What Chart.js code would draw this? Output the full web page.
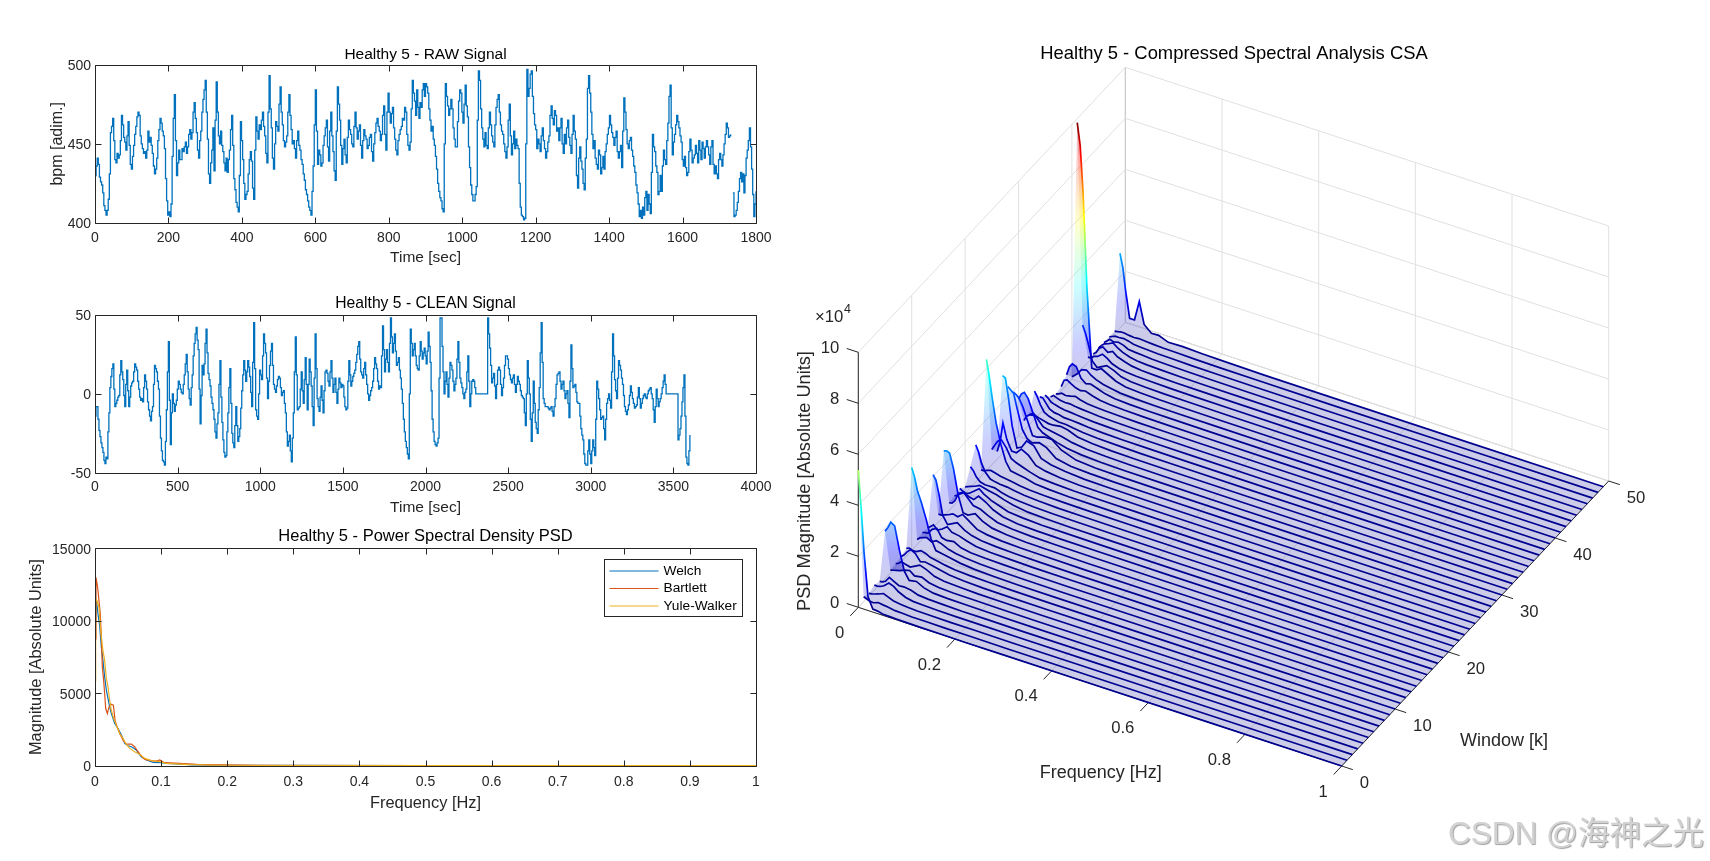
<!DOCTYPE html>
<html>
<head>
<meta charset="utf-8">
<title>Healthy 5</title>
<script src="https://cdn.jsdelivr.net/npm/chart.js@4"></script>
<style>
  html, body { margin: 0; background: #fff; overflow: hidden; }
  body { width: 1710px; height: 861px; position: relative; }
  canvas { position: absolute; }
  #marca {
    position: absolute; left: 1448px; top: 807px; white-space: nowrap;
    font: 31.5px "Liberation Sans", "Noto Sans CJK SC", sans-serif;
    color: #d2d2d2; text-shadow: 1px 1px 1px #a0a0a0;
  }
</style>
</head>
<body>
<canvas id="raw" width="780" height="223" style="left:0;top:44px"></canvas>
<canvas id="clean" width="780" height="224" style="left:0;top:293px"></canvas>
<canvas id="psd" width="780" height="287" style="left:0;top:526px"></canvas>
<canvas id="csa" width="950" height="861" style="left:760px;top:0"></canvas>
<div id="marca">CSDN @海神之光</div>
<script>
// Sinal bruto, uma leitura a cada 3 s (null = buraco no traço perto de 1734 s)
const rawStep = 3;
const rawValues = [
  430,436,441,437,429,426,424,419,411,408,405,408,415,431,457,461,466,452,440,438,
  444,441,443,452,468,462,454,451,446,455,464,449,437,434,442,449,456,461,467,470,
  468,455,450,447,444,445,441,446,458,451,454,449,444,436,431,434,441,452,459,466,
  463,458,455,447,428,414,405,407,404,412,442,466,481,452,430,438,446,440,440,447,
  445,448,451,444,448,456,459,453,457,470,476,466,457,446,441,452,458,470,478,484,
  490,470,453,431,425,438,446,460,433,465,489,470,455,450,458,449,445,438,433,441,
  432,440,446,459,468,449,428,421,413,410,407,430,464,452,440,425,415,418,420,431,
  440,445,439,422,415,446,467,458,453,462,459,465,470,461,455,444,438,470,493,472,
  460,441,434,450,464,461,458,475,486,470,462,452,448,451,455,470,481,468,459,450,
  452,447,441,452,458,449,446,440,437,431,427,421,418,414,410,408,405,420,436,462,
  484,458,437,446,443,436,438,449,455,460,465,448,439,458,470,455,445,433,427,458,
  486,475,465,449,437,447,453,443,438,454,465,459,456,450,448,461,470,460,453,458,
  462,449,441,452,459,455,453,447,449,454,456,445,439,450,457,463,466,461,458,452,
  456,468,474,456,446,470,482,470,463,469,473,460,453,446,443,452,456,459,461,466,
  465,473,470,456,449,446,451,472,490,482,477,468,484,473,466,476,473,484,488,480,
  488,486,482,472,465,458,461,453,449,442,434,425,420,416,414,409,407,450,488,480,
  474,468,472,478,472,460,453,448,448,464,477,484,482,470,463,475,487,474,467,448,
  435,424,418,414,414,418,423,465,496,490,472,460,453,448,457,449,447,460,470,462,
  455,451,448,462,473,478,481,470,462,458,456,450,445,441,448,465,475,455,443,450,
  458,447,453,449,447,425,410,405,404,402,403,450,497,480,485,494,496,480,469,462,
  459,447,453,450,445,455,460,452,447,441,445,451,455,468,474,466,462,471,468,458,
  460,452,460,466,450,444,456,450,460,465,454,449,444,456,468,458,453,430,422,441,
  448,439,434,425,421,441,453,485,493,482,470,456,447,452,441,437,434,446,443,431,
  435,442,434,445,450,456,460,468,462,457,454,449,454,458,445,441,445,449,435,458,
  479,470,459,450,447,452,454,446,442,436,432,424,419,412,404,408,403,410,405,416,
  420,408,418,412,406,432,456,448,445,436,432,418,420,430,420,436,446,440,437,452,
  463,480,487,460,443,451,456,462,468,464,460,455,451,440,436,442,435,430,432,445,
  453,446,438,441,443,449,444,438,452,446,440,451,447,441,448,452,448,443,437,448,
  452,437,431,436,431,428,440,444,440,436,443,450,456,463,460,454,455,456,null,
  419,404,405,408,413,420,428,432,426,431,419,430,441,446,452,460,448,434,418,404,412,420
];
const rawXTicks = [0,200,400,600,800,1000,1200,1400,1600,1800];
const rawYTicks = [400,450,500];

// Sinal limpo, uma leitura a cada 6 s
const cleanStep = 6;
const cleanValues = [
  -14,-8,-8,-16,-23,-27,-31,-34,-37,-42,-44,-40,-41,-24,-12,4,11,16,19,3,
  -8,-6,-4,-2,-1,12,21,14,9,-1,-8,6,15,2,-8,-2,5,7,8,14,
  19,17,15,8,3,-2,-4,-3,-5,4,12,8,3,-5,-10,-14,-17,-11,-8,6,
  18,16,14,8,3,-14,-28,-36,-42,-43,-45,-30,-10,14,33,-4,-32,-12,0,-6,
  -11,-7,-4,3,8,6,3,1,0,6,12,19,25,14,3,-3,-7,4,12,24,
  32,38,42,34,28,3,-19,-1,18,12,19,32,41,26,13,9,5,-2,-6,-10,
  -16,-24,-28,-19,-12,6,21,-2,-18,-29,-37,-40,-39,-24,-12,4,16,-6,-25,-31,
  -34,-20,-8,-20,-30,-27,-22,-9,2,12,21,15,8,14,21,17,11,1,-8,20,
  45,16,-10,-14,-16,0,15,12,9,24,38,32,26,10,-3,8,18,27,32,18,
  6,3,1,5,9,11,10,4,-1,1,2,-6,-12,-24,-33,-30,-26,-36,-43,-28,
  -12,14,36,12,-10,-9,-8,3,14,2,-6,9,23,6,-10,6,22,14,5,-8,
  -20,10,38,16,-3,-8,-11,-2,5,-4,-12,2,14,15,13,8,5,14,21,10,
  1,6,10,1,-6,3,10,7,4,6,5,-2,-8,-10,-9,8,21,12,5,8,
  11,13,15,20,25,30,33,22,14,12,10,16,20,12,6,0,-4,-1,2,4,
  8,16,23,19,16,8,3,5,4,24,43,28,14,22,28,20,14,32,48,36,
  26,32,38,27,18,20,23,15,10,3,-6,-16,-24,-30,-34,-38,-41,0,41,32,
  24,28,32,24,18,16,15,24,33,27,22,26,29,24,
  19,27,39,30,20,2,-16,-24,-30,-32,-33,-31,-28,10,48,48,30,14,0,8,14,6,-2,10,20,18,
  15,8,2,6,10,22,33,20,10,7,4,0,-3,1,3,14,24,8,-8,0,8,9,8,4,0,0,
  0,0,0,0,0,0,0,0,0,0,48,38,
  29,18,7,10,13,5,-3,6,15,17,15,6,-1,4,10,18,24,24,22,16,
  12,9,7,10,12,6,1,6,11,8,6,2,-1,-2,-3,-12,-20,0,21,10,
  0,-16,-30,-12,8,-6,-18,-22,-25,-10,4,26,45,20,-3,-6,-8,-8,-8,-9,
  -10,-9,-8,-11,-14,-8,-3,6,12,13,14,8,3,6,8,2,-3,0,2,-6,
  -15,8,31,16,4,5,6,1,-5,-6,-6,-14,-22,-26,-29,-38,-44,-45,-45,-36,
  -29,-38,-44,-36,-29,-34,-39,-16,8,3,-3,-10,-16,-15,-14,-22,-29,-16,-6,-3,
  0,-4,-9,14,38,24,9,2,-3,10,21,18,15,10,6,-1,-8,-11,-13,-10,
  -7,-1,5,1,-3,-6,-9,-8,-7,-2,4,-3,-9,-6,-3,-1,0,-2,-3,0,
  2,3,4,0,-3,-10,-18,-8,3,-3,-8,-5,-3,0,4,8,12,6,
  0,0,0,0,0,0,0,0,0,0,0,0,
  -29,-26,-22,-14,-5,4,12,-14,-40,-44,-45,-36,-26
];
const cleanXTicks = [0,500,1000,1500,2000,2500,3000,3500,4000];
const cleanYTicks = [-50,0,50];

// PSD pelos três métodos
const welchFreq = [0,.002,.0045,.007,.0096,.012,.0146,.0172,.0197,.0222,.0247,.0273,.0298,.0348,.04,.045,.05,.055,.0626,.07,.0778,.088,.1,.108,.123,.148,.194,.5,1];
const welchMag = [8700,11500,10480,9680,8190,7280,6130,5220,4640,4070,3615,3270,2930,2585,2130,1555,1395,1327,1100,640,412,250,230,183,137,70,50,30,25];
const bartlettFreq = [0,.0015,.004,.006,.008,.0096,.0111,.0131,.0146,.0162,.0187,.0212,.0247,.0278,.0303,.0333,.0374,.0424,.0475,.055,.06,.065,.0702,.0753,.085,.093,.098,.105,.128,.154,.169,.245,.5,1];
const bartlettMag = [8760,13000,12300,11400,10480,8880,6820,5900,4990,3960,3615,4070,4255,4190,3160,2700,2240,1785,1510,1510,1327,984,686,458,366,343,412,229,183,114,91,50,30,25];
const yuleFreq = [0,.001,.003,.006,.0091,.012,.0146,.0172,.0197,.0222,.0247,.0283,.0323,.0374,.0424,.0465,.0525,.06,.0677,.0753,.0853,.098,.108,.143,.194,.295,.5,1];
const yuleMag = [5860,11500,11400,10940,9100,7960,7280,6020,5450,4530,3840,3270,2815,2240,1900,1555,1213,984,800,526,366,297,183,90,50,35,30,25];
const psdXTicks = [0,.1,.2,.3,.4,.5,.6,.7,.8,.9,1];
const psdYTicks = [0,5000,10000,15000];
const psdNames = ['Welch', 'Bartlett', 'Yule-Walker'];

// CSA: uma linha por janela k (0 a 49), magnitude em unidades de 10^4
const csaFreq = [0,.006,.012,.02,.03,.04,.05,.065,.08,.1,.13,.17,.22,.3,.45,.7,1];
const csaMag = [
  [5.38,3.9,2.2,.55,.12,.1,.05,.04,.03,.02,.01,.01,0,0,0,0,0],
  [.19,.15,.1,.08,.15,.12,.1,.05,.04,.02,.02,.01,.01,0,0,0,0],
  [.1,.12,.15,.2,.28,.2,.12,.08,.05,.03,.02,.01,.01,0,0,0,0],
  [.2,.2,.22,.3,.47,.4,.25,.12,.06,.04,.02,.01,.01,0,0,0,0],
  [.12,.14,.2,.4,.3,.2,.22,.18,.08,.05,.03,.01,.01,0,0,0,0],
  [1.87,2.05,2.3,2.2,1.3,.55,.25,.3,.15,.06,.03,.02,.01,0,0,0,0],
  [.12,.15,.18,.22,.3,.35,.2,.25,.12,.06,.03,.02,.01,0,0,0,0],
  [.15,.2,.3,.25,.2,.3,.4,.3,.15,.08,.05,.02,.01,0,0,0,0],
  [.2,.3,.45,.6,.5,.25,.3,.25,.18,.1,.05,.02,.01,0,0,0,0],
  [.3,.35,.3,.3,.4,.35,.25,.2,.14,.08,.05,.03,.01,0,0,0,0],
  [3.25,2.9,2.4,2,1.4,.7,.3,.25,.2,.12,.06,.03,.01,0,0,0,0],
  [.2,.3,.35,.4,.3,.4,.35,.22,.15,.1,.05,.02,.01,0,0,0,0],
  [.25,.28,.3,.5,.6,.3,.25,.3,.15,.08,.05,.03,.01,0,0,0,0],
  [.2,.3,.4,.25,.35,.5,.35,.3,.2,.1,.05,.03,.01,0,0,0,0],
  [2.07,1.9,1.4,.6,.3,.4,.5,.3,.18,.1,.06,.03,.01,0,0,0,0],
  [.3,.3,.35,.4,.5,.45,.6,.4,.2,.12,.06,.03,.02,0,0,0,0],
  [2.56,2.6,2.55,2,1,.38,.35,.5,.3,.15,.08,.03,.02,0,0,0,0],
  [.3,.32,.45,.8,.9,.7,.5,.45,.3,.15,.08,.04,.02,.01,0,0,0],
  [.35,.4,.5,.6,.5,.45,.65,.5,.3,.15,.06,.03,.02,.01,0,0,0],
  [.42,.35,.3,.35,.5,.65,.5,.35,.25,.12,.07,.03,.02,.01,0,0,0],
  [.25,.3,.35,.4,.5,.45,.4,.35,.25,.15,.07,.04,.02,.01,0,0,0],
  [.82,.7,.5,.35,.3,.3,.3,.2,.14,.1,.06,.03,.02,.01,0,0,0],
  [1.45,1.2,.8,.5,.3,.25,.22,.2,.15,.1,.06,.03,.02,.01,0,0,0],
  [.25,.25,.3,.35,.3,.25,.22,.18,.12,.08,.05,.03,.02,.01,0,0,0],
  [4.36,3.7,2.9,1.98,1.2,.6,.3,.25,.2,.1,.06,.03,.02,.01,0,0,0],
  [.6,.8,1,1.1,.85,.5,.4,.3,.2,.1,.06,.03,.02,.01,0,0,0],
  [.3,.7,1.5,.9,.5,.5,.7,.55,.25,.15,.08,.03,.02,.01,0,0,0],
  [3.05,3,2.3,1.2,.4,.5,.8,.7,.3,.18,.1,.04,.02,.01,0,0,0],
  [2.4,2.3,2.2,1.6,.9,.6,.5,.6,.5,.2,.08,.04,.02,.01,0,0,0],
  [1.97,1.9,1.8,1.5,1,.5,.5,.6,.6,.3,.1,.04,.02,.01,0,0,0],
  [1.46,1.7,1.8,1.6,1.1,.6,.45,.35,.25,.15,.08,.04,.02,.01,0,0,0],
  [.4,.6,.7,.8,.6,.4,.35,.3,.25,.15,.08,.04,.02,.01,0,0,0],
  [.4,.42,.45,.4,.35,.3,.3,.35,.3,.15,.08,.04,.02,.01,0,0,0],
  [1.1,.9,.65,.4,.3,.25,.2,.2,.15,.1,.06,.04,.02,.01,0,0,0],
  [.65,.65,.5,.3,.22,.2,.15,.14,.12,.08,.05,.03,.02,.01,0,0,0],
  [.5,.42,.3,.25,.2,.16,.15,.12,.1,.07,.05,.03,.02,.01,0,0,0],
  [.2,.3,.25,.2,.17,.18,.15,.12,.1,.07,.05,.03,.02,.01,0,0,0],
  [.1,.14,.2,.16,.2,.25,.18,.12,.09,.07,.05,.03,.02,.01,0,0,0],
  [.16,.45,.5,.4,.3,.25,.3,.2,.12,.08,.05,.03,.02,.01,0,0,0],
  [.4,.75,.9,.85,.45,.3,.35,.25,.15,.08,.05,.03,.02,.01,0,0,0],
  [.1,.2,.3,.5,.55,.4,.3,.2,.15,.08,.05,.03,.02,.01,0,0,0],
  [9.84,9,7.2,3.5,.4,.4,.5,.35,.2,.1,.06,.03,.02,.01,0,0,0],
  [1.68,1.4,1,.4,.2,.3,.4,.3,.15,.08,.05,.03,.02,.01,0,0,0],
  [.2,.2,.3,.35,.5,.4,.25,.15,.1,.07,.05,.03,.02,.01,0,0,0],
  [.1,.2,.4,.5,.35,.45,.3,.2,.12,.07,.05,.03,.02,.01,0,0,0],
  [.11,.25,.35,.4,.5,.35,.25,.15,.1,.07,.05,.03,.02,.01,0,0,0],
  [.1,.2,.3,.25,.3,.25,.15,.12,.1,.07,.05,.03,.02,.01,0,0,0],
  [.1,.15,.2,.2,.22,.18,.12,.1,.08,.06,.05,.03,.02,.01,0,0,0],
  [.1,.12,.15,.15,.12,.1,.12,.1,.08,.06,.05,.03,.02,.01,0,0,0],
  [2.93,2.4,1.5,.5,.5,1.29,.45,.2,.21,.06,.08,.05,.03,.01,0,0,0]
];
const csaFreqTicks = [0,.2,.4,.6,.8,1];
const csaWindowTicks = [0,10,20,30,40,50];
const csaMagTicks = [0,2,4,6,8,10];

const fonte = '"Liberation Sans", Arial, sans-serif';
const corTexto = '#262626';
Chart.defaults.font.family = fonte;
Chart.defaults.color = corTexto;
Chart.defaults.animation = false;

// Marcas para dentro nos quatro lados e a caixa do gráfico, como no MATLAB
const caixaMatlab = {
  id: 'caixaMatlab',
  afterLayout(chart) {
    // título centrado sobre a área do gráfico, não sobre o canvas
    chart.titleBlock.left = chart.chartArea.left;
    chart.titleBlock.right = chart.chartArea.right;
  },
  afterDatasetsDraw(chart) {
    const { ctx, chartArea: a, scales } = chart;
    const esq = Math.round(a.left) + .5, dir = Math.round(a.right) + .5;
    const cima = Math.round(a.top) + .5, baixo = Math.round(a.bottom) + .5;
    ctx.save();
    ctx.strokeStyle = corTexto;
    ctx.lineWidth = 1;
    ctx.beginPath();
    ctx.rect(esq, cima, dir - esq, baixo - cima);
    scales.x.ticks.forEach(t => {
      const px = Math.round(scales.x.getPixelForValue(t.value)) + .5;
      ctx.moveTo(px, baixo); ctx.lineTo(px, baixo - 6);
      ctx.moveTo(px, cima); ctx.lineTo(px, cima + 6);
    });
    scales.y.ticks.forEach(t => {
      const py = Math.round(scales.y.getPixelForValue(t.value)) + .5;
      ctx.moveTo(esq, py); ctx.lineTo(esq + 6, py);
      ctx.moveTo(dir, py); ctx.lineTo(dir - 6, py);
    });
    ctx.stroke();
    ctx.restore();
  }
};

function eixoX(ticks, titulo, alturaBloco, folgaTick, tamanhoTitulo) {
  return {
    type: 'linear', min: ticks[0], max: ticks[ticks.length - 1],
    afterBuildTicks: s => { s.ticks = ticks.map(v => ({ value: v })); },
    afterFit: s => { s.height = alturaBloco; },
    grid: { display: false, drawTicks: false }, border: { display: false },
    ticks: { font: { size: 14 }, padding: folgaTick, maxRotation: 0, autoSkip: false, callback: v => v },
    title: { display: true, text: titulo, font: { size: tamanhoTitulo }, padding: 0 }
  };
}

function eixoY(ticks, titulo, folgaTitulo, tamanhoTitulo) {
  return {
    type: 'linear', min: ticks[0], max: ticks[ticks.length - 1],
    afterBuildTicks: s => { s.ticks = ticks.map(v => ({ value: v })); },
    afterFit: s => { s.width = 95; },
    grid: { display: false, drawTicks: false }, border: { display: false },
    ticks: { font: { size: 14 }, padding: 4, labelOffset: 1.5, autoSkip: false, callback: v => v },
    title: { display: titulo !== '', text: titulo, font: { size: tamanhoTitulo }, padding: { top: folgaTitulo, bottom: 0 } }
  };
}

function opcoes2d(titulo, tamanho, folgaTitulo, x, y) {
  return {
    responsive: false,
    layout: { padding: { right: 24 } },
    scales: { x, y },
    plugins: {
      legend: { display: false },
      tooltip: { enabled: false },
      title: {
        display: true, text: titulo, color: '#000',
        font: { size: tamanho, weight: 'normal' }, padding: { top: 1, bottom: folgaTitulo }
      }
    }
  };
}

function serieTempo(valores, passo) {
  return {
    data: valores.map((v, i) => ({ x: i * passo, y: v })),
    showLine: true, stepped: true, borderColor: '#0072BD', borderWidth: 1.3, pointRadius: 0, spanGaps: false
  };
}

new Chart(document.getElementById('raw'), {
  type: 'scatter',
  data: { datasets: [serieTempo(rawValues, rawStep)] },
  options: opcoes2d('Healthy 5 - RAW Signal', 15.5, 1,
    eixoX(rawXTicks, 'Time [sec]', 44, 6.5, 15.5), eixoY(rawYTicks, 'bpm [adim.]', 48, 16)),
  plugins: [caixaMatlab]
});

new Chart(document.getElementById('clean'), {
  type: 'scatter',
  data: { datasets: [serieTempo(cleanValues, cleanStep)] },
  options: opcoes2d('Healthy 5 - CLEAN Signal', 15.7, 2,
    eixoX(cleanXTicks, 'Time [sec]', 44, 6, 15.5), eixoY(cleanYTicks, '', 0, 16)),
  plugins: [caixaMatlab]
});

// Legenda dentro do gráfico de PSD
const legendaPsd = {
  id: 'legendaPsd',
  afterDatasetsDraw(chart) {
    const { ctx, chartArea: a } = chart;
    const largura = 138, altura = 57, esq = Math.round(a.right) - 151.5, cima = Math.round(a.top) + 11.5;
    ctx.save();
    ctx.fillStyle = '#fff';
    ctx.strokeStyle = corTexto;
    ctx.lineWidth = 1;
    ctx.fillRect(esq, cima, largura, altura);
    ctx.strokeRect(esq, cima, largura, altura);
    ctx.font = '13.7px ' + fonte;
    ctx.textBaseline = 'middle';
    chart.data.datasets.forEach((d, i) => {
      const py = cima + 11.5 + i * 17.5;
      ctx.strokeStyle = d.borderColor;
      ctx.beginPath();
      ctx.moveTo(esq + 5, py); ctx.lineTo(esq + 54, py);
      ctx.stroke();
      ctx.fillStyle = '#000';
      ctx.fillText(d.label, esq + 59, py);
    });
    ctx.restore();
  }
};

function pontosPsd(freq, mag) {
  return freq.map((f, i) => ({ x: f, y: mag[i] }));
}

new Chart(document.getElementById('psd'), {
  type: 'scatter',
  data: {
    datasets: [
      { label: psdNames[0], data: pontosPsd(welchFreq, welchMag), borderColor: '#0072BD', order: 3 },
      { label: psdNames[1], data: pontosPsd(bartlettFreq, bartlettMag), borderColor: '#D95319', order: 2 },
      { label: psdNames[2], data: pontosPsd(yuleFreq, yuleMag), borderColor: '#EDB120', order: 1 }
    ].map(d => ({ ...d, showLine: true, borderWidth: 1.2, pointRadius: 0 }))
  },
  options: opcoes2d('Healthy 5 - Power Spectral Density PSD', 16.5, 1.5,
    eixoX(psdXTicks, 'Frequency [Hz]', 47, 8, 16.4), eixoY(psdYTicks, 'Magnitude [Absolute Units]', 27, 16.4)),
  plugins: [caixaMatlab, legendaPsd]
});

// ---- Gráfico 3D: projeção ortográfica sobre escalas lineares em unidades de página ----
const cantoFreq0 = { x: 858.3, y: 607.3 };
const vetorFreq = { x: 483.4, y: 158.7 };     // f de 0 a 1
const vetorJanela = { x: 267, y: -285 };      // k de 0 a 50
const alturaMag = 25.5;                       // px por 10^4

function projetar(f, k, z) {
  return {
    x: cantoFreq0.x + vetorFreq.x * f + vetorJanela.x * k / 50,
    y: cantoFreq0.y + vetorFreq.y * f + vetorJanela.y * k / 50 - alturaMag * z
  };
}

function segmento(a, b, cor, largura, ordem) {
  return { data: [a, b], showLine: true, borderColor: cor, borderWidth: largura, pointRadius: 0, order: ordem };
}

// Mapa jet
const paradasJet = [[0,'0,0,143'],[.125,'0,0,255'],[.375,'0,255,255'],[.625,'255,255,0'],[.875,'255,0,0'],[1,'128,0,0']];
const magMaxima = Math.max(...csaMag.map(l => Math.max(...l)));
const cacheGradiente = new Map();

function gradienteJet(chart, k, alfa) {
  const y = chart.scales.y;
  // na primeira resolução as escalas ainda não têm dimensão
  if (!y || !y.height) return 'rgba(0,0,143,' + alfa + ')';
  const chave = k + '/' + alfa;
  if (cacheGradiente.has(chave)) return cacheGradiente.get(chave);
  const base = y.getPixelForValue(projetar(0, k, 0).y);
  const topo = y.getPixelForValue(projetar(0, k, magMaxima).y);
  const g = chart.ctx.createLinearGradient(0, base, 0, topo);
  paradasJet.forEach(([p, rgb]) => g.addColorStop(p, 'rgba(' + rgb + ',' + alfa + ')'));
  cacheGradiente.set(chave, g);
  return g;
}

const cenaCsa = [];
const corGrade = '#e0e0e0', corCanto = '#c6c6c6', corEixo = '#262626';

// Grade das paredes e do chão
csaMagTicks.forEach(z => {
  cenaCsa.push(segmento(projetar(0, 0, z), projetar(0, 50, z), corGrade, 1, 5));
  cenaCsa.push(segmento(projetar(0, 50, z), projetar(1, 50, z), corGrade, 1, 5));
});
csaWindowTicks.forEach(k => {
  cenaCsa.push(segmento(projetar(0, k, 0), projetar(0, k, 10), k === 50 ? corCanto : corGrade, 1, 5));
  cenaCsa.push(segmento(projetar(0, k, 0), projetar(1, k, 0), k === 50 ? corCanto : corGrade, 1, 5));
});
csaFreqTicks.forEach(f => {
  cenaCsa.push(segmento(projetar(f, 50, 0), projetar(f, 50, 10), corGrade, 1, 5));
  cenaCsa.push(segmento(projetar(f, 0, 0), projetar(f, 50, 0), corGrade, 1, 5));
});

// Eixos e marcas para fora
cenaCsa.push(segmento(projetar(0, 0, 0), projetar(0, 0, 10), corEixo, 1, 4));
cenaCsa.push(segmento(projetar(0, 0, 0), projetar(1, 0, 0), corEixo, 1, 4));
cenaCsa.push(segmento(projetar(1, 0, 0), projetar(1, 50, 0), corEixo, 1, 4));
csaMagTicks.forEach(z => cenaCsa.push(segmento(projetar(0, 0, z), projetar(-.024, 0, z), corEixo, 1, 4)));
csaFreqTicks.forEach(f => cenaCsa.push(segmento(projetar(f, 0, 0), projetar(f, -1.5, 0), corEixo, 1, 4)));
csaWindowTicks.forEach(k => cenaCsa.push(segmento(projetar(1, k, 0), projetar(1.023, k, 0), corEixo, 1, 4)));

// Superfície translúcida entre janelas vizinhas
for (let k = 0; k < csaMag.length - 1; k++) {
  const frente = csaFreq.map((f, i) => projetar(f, k, csaMag[k][i]));
  const fundo = csaFreq.map((f, i) => projetar(f, k + 1, csaMag[k + 1][i])).reverse();
  cenaCsa.push({
    data: frente.concat(fundo), showLine: true, fill: 'shape', pointRadius: 0,
    borderWidth: 0, borderColor: 'transparent', order: 2,
    backgroundColor: ctx => gradienteJet(ctx.chart, k, .2)
  });
}

// Linhas de cada janela
csaMag.forEach((linha, k) => {
  cenaCsa.push({
    data: csaFreq.map((f, i) => projetar(f, k, linha[i])), showLine: true, pointRadius: 0,
    borderWidth: 1.7, order: 1,
    borderColor: ctx => gradienteJet(ctx.chart, k, 1)
  });
});

// Textos do gráfico 3D
const textosCsa = {
  id: 'textosCsa',
  afterDraw(chart) {
    const { ctx, scales } = chart;
    const px = p => ({ x: scales.x.getPixelForValue(p.x), y: scales.y.getPixelForValue(p.y) });
    const escreve = (texto, p, alinhamento, tamanho, cor) => {
      const q = px(p);
      ctx.font = tamanho + 'px ' + fonte;
      ctx.fillStyle = cor;
      ctx.textAlign = alinhamento;
      ctx.textBaseline = 'middle';
      ctx.fillText(texto, q.x, q.y);
    };
    ctx.save();
    escreve('Healthy 5 - Compressed Spectral Analysis CSA', { x: 1234, y: 54 }, 'center', 18.4, '#000');
    csaMagTicks.forEach(z => {
      const p = projetar(0, 0, z);
      escreve(String(z), { x: p.x - 19, y: p.y - 4 }, 'right', 16.7, corTexto);
    });
    csaFreqTicks.forEach(f => {
      const p = projetar(f, 0, 0);
      escreve(String(f), { x: p.x - 14, y: p.y + 26 }, 'right', 16.7, corTexto);
    });
    csaWindowTicks.forEach(k => {
      const p = projetar(1, k, 0);
      escreve(String(k), { x: p.x + 18, y: p.y + 17 }, 'left', 16.7, corTexto);
    });
    escreve('×10', { x: 815, y: 317 }, 'left', 16.7, corTexto);
    escreve('4', { x: 844, y: 310 }, 'left', 12.5, corTexto);
    escreve('Frequency [Hz]', { x: 1100.7, y: 773 }, 'center', 18, corTexto);
    escreve('Window [k]', { x: 1504, y: 741 }, 'center', 18, corTexto);
    const q = px({ x: 805, y: 481 });
    ctx.translate(q.x, q.y);
    ctx.rotate(-Math.PI / 2);
    ctx.font = '18.2px ' + fonte;
    ctx.fillStyle = corTexto;
    ctx.textAlign = 'center';
    ctx.textBaseline = 'middle';
    ctx.fillText('PSD Magnitude [Absolute Units]', 0, 0);
    ctx.restore();
  }
};

new Chart(document.getElementById('csa'), {
  type: 'scatter',
  data: { datasets: cenaCsa },
  options: {
    responsive: false,
    layout: { padding: 0 },
    scales: {
      x: { type: 'linear', min: 760, max: 1710, display: false },
      y: { type: 'linear', min: 0, max: 861, reverse: true, display: false }
    },
    plugins: { legend: { display: false }, tooltip: { enabled: false }, title: { display: false } }
  },
  plugins: [textosCsa]
});
</script>
</body>
</html>
